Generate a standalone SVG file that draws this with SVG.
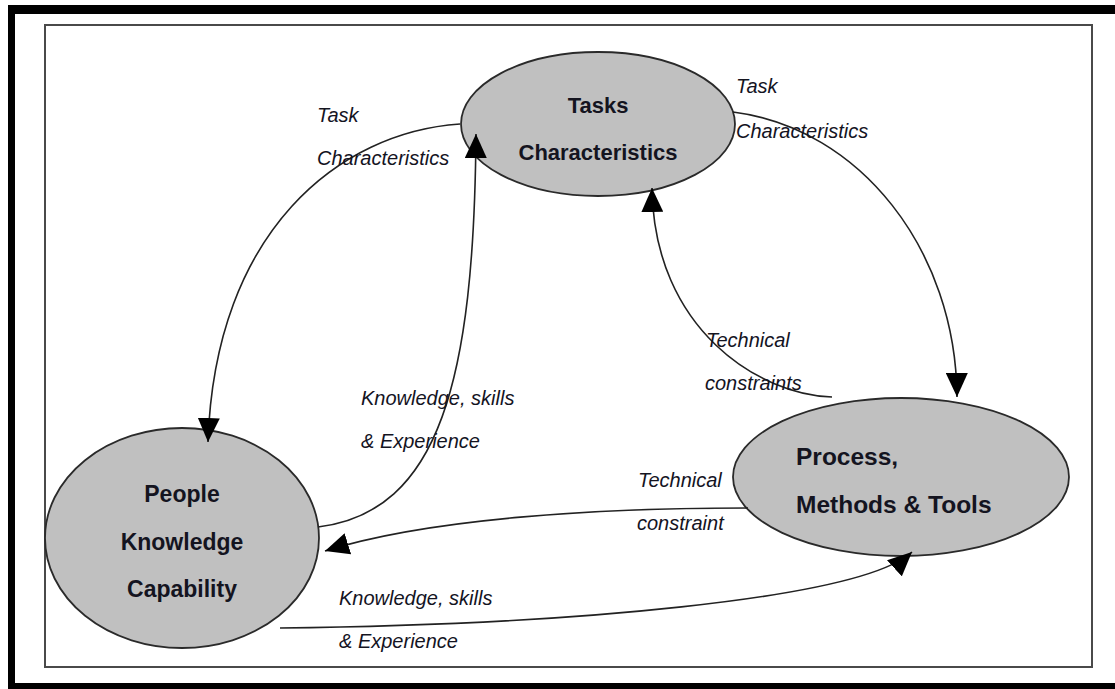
<svg xmlns="http://www.w3.org/2000/svg" width="1115" height="689" viewBox="0 0 1115 689">
<defs>
<style>
.node{fill:#c0c0c0;stroke:#2a2a2a;stroke-width:1.8}
.nt{font-family:"Liberation Sans",Arial,sans-serif;font-weight:bold;fill:#14141f}
.lbl{font-family:"Liberation Sans",Arial,sans-serif;font-style:italic;font-size:20px;fill:#14141f}
.con{fill:none;stroke:#222;stroke-width:1.6}
</style>
<marker id="arr" viewBox="0 0 24 22" refX="24" refY="11" markerWidth="24" markerHeight="22" orient="auto" markerUnits="userSpaceOnUse">
<path d="M0,0 L24,11 L0,22 z" fill="#000"/>
</marker>
</defs>
<rect x="0" y="0" width="1115" height="689" fill="#fff"/>
<g id="frame">
<rect x="8" y="5" width="1107" height="9" fill="#000"/>
<rect x="8" y="5" width="7" height="684" fill="#000"/>
<rect x="8" y="683" width="1107" height="6" fill="#000"/>
<rect x="45" y="25" width="1047" height="642" fill="none" stroke="#4a4a4a" stroke-width="2"/>
</g>
<g id="tasks">
<ellipse class="node" cx="598" cy="124" rx="137" ry="72"/>
<text class="nt" font-size="22" x="598" y="113" text-anchor="middle">Tasks</text>
<text class="nt" font-size="22" x="598" y="160" text-anchor="middle">Characteristics</text>
</g>
<g id="people">
<ellipse class="node" cx="182" cy="538" rx="137" ry="110"/>
<text class="nt" font-size="23" x="182" y="502" text-anchor="middle">People</text>
<text class="nt" font-size="23" x="182" y="550" text-anchor="middle">Knowledge</text>
<text class="nt" font-size="23" x="182" y="597" text-anchor="middle">Capability</text>
</g>
<g id="process">
<ellipse class="node" cx="901" cy="477" rx="168" ry="79"/>
<text class="nt" font-size="24.5" x="796" y="465">Process,</text>
<text class="nt" font-size="24.5" x="796" y="513">Methods &amp; Tools</text>
</g>
<g id="connectors">
<path class="con" d="M460 124 C340 132 215 230 208 442" marker-end="url(#arr)"/>
<path class="con" d="M318 527 C440 512 474 380 476 134" marker-end="url(#arr)"/>
<path class="con" d="M733 112 C860 128 956 250 957 397" marker-end="url(#arr)"/>
<path class="con" d="M832 397 C760 395 654 330 652 188" marker-end="url(#arr)"/>
<path class="con" d="M748 508 C600 508 430 518 325 551" marker-end="url(#arr)"/>
<path class="con" d="M280 628 C560 625 860 600 912 552" marker-end="url(#arr)"/>
</g>
<g id="labels">
<text class="lbl" x="317" y="122">Task</text>
<text class="lbl" x="317" y="165">Characteristics</text>
<text class="lbl" x="736" y="93">Task</text>
<text class="lbl" x="736" y="138">Characteristics</text>
<text class="lbl" x="706" y="347">Technical</text>
<text class="lbl" x="705" y="390">constraints</text>
<text class="lbl" x="361" y="405">Knowledge, skills</text>
<text class="lbl" x="361" y="448">&amp; Experience</text>
<text class="lbl" x="638" y="487">Technical</text>
<text class="lbl" x="637" y="530">constraint</text>
<text class="lbl" x="339" y="605">Knowledge, skills</text>
<text class="lbl" x="339" y="648">&amp; Experience</text>
</g>
</svg>
